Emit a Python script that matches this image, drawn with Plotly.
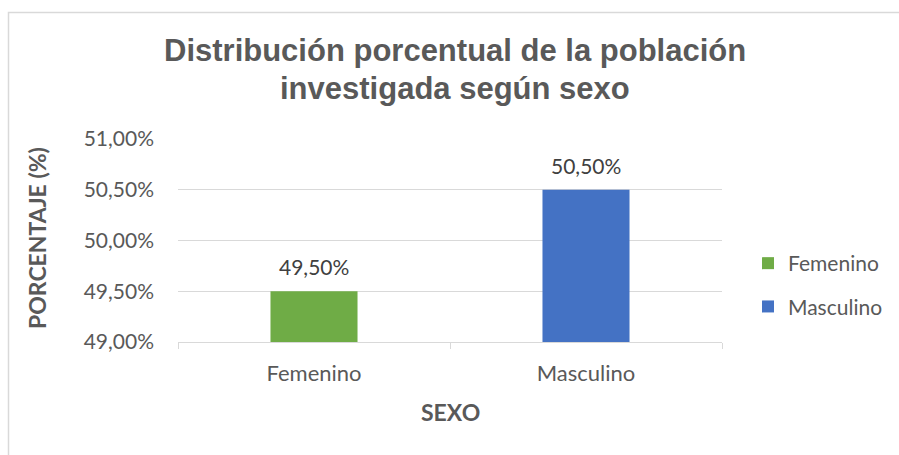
import plotly.graph_objects as go

categories = ["Femenino", "Masculino"]
values = [49.5, 50.5]
colors = ["#6fac46", "#4472c4"]
y_ticks = [49.0, 49.5, 50.0, 50.5, 51.0]
title_lines = ["Distribución porcentual de la población", "investigada según sexo"]
x_title = "SEXO"
y_title = "PORCENTAJE (%)"

def pct(v):
    return f"{v:.2f}%".replace(".", ",")

W, H = 899, 455
L, R, T, B = 178, 177, 139, 113
pw, ph = W - L - R, H - T - B

def px(x):
    return (x - L) / pw

def py(y):
    return (H - B - y) / ph

TXT = "#595959"
GRID = "#d9d9d9"
BODY = "Lato, 'Open Sans', sans-serif"
TITLE_FONT = "'Liberation Sans', Arial, sans-serif"

fig = go.Figure()
for i, (c, v) in enumerate(zip(categories, values)):
    fig.add_trace(go.Bar(
        x=[c], y=[v], name=c, marker=dict(color=colors[i], line=dict(width=0)),
        width=0.32, legendgroup=c, hoverinfo="skip",
    ))

annotations = []
for c, v in zip(categories, values):
    annotations.append(dict(
        x=c, y=v, xref="x", yref="y", text=pct(v),
        showarrow=False, yanchor="bottom", yshift=10,
        font=dict(family=BODY, size=21, color="#404040"),
    ))
for line, ypix in zip(title_lines, [50, 88]):
    annotations.append(dict(x=px(455), y=py(ypix), xref="paper", yref="paper",
                            text=f"<b>{line}</b>", showarrow=False,
                            xanchor="center", yanchor="middle",
                            font=dict(family=TITLE_FONT, size=31, color=TXT)))
annotations.append(dict(x=px(37), y=py(238), xref="paper", yref="paper",
                        text=f"<b>{y_title}</b>", showarrow=False, textangle=-90,
                        xanchor="center", yanchor="middle",
                        font=dict(family=BODY, size=23, color=TXT)))
annotations.append(dict(x=px(450), y=py(412), xref="paper", yref="paper",
                        text=f"<b>{x_title}</b>", showarrow=False,
                        xanchor="center", yanchor="middle",
                        font=dict(family=BODY, size=23, color=TXT)))

fig.update_layout(
    width=W, height=H,
    margin=dict(l=L, r=R, t=T, b=B, autoexpand=False),
    paper_bgcolor="white", plot_bgcolor="white",
    barmode="overlay",
    showlegend=True,
    legend=dict(x=px(748), xanchor="left", y=py(243), yanchor="top",
                font=dict(family=BODY, size=21, color=TXT),
                tracegroupgap=13, traceorder="grouped", itemwidth=30),
    xaxis=dict(
        type="category", tickson="boundaries", ticks="outside", ticklen=6,
        tickcolor=GRID, showline=True, linecolor=GRID, linewidth=1,
        showgrid=False, ticklabelstandoff=12,
        tickfont=dict(family=BODY, size=22, color=TXT),
    ),
    yaxis=dict(
        range=[y_ticks[0], y_ticks[-1]], tickvals=y_ticks,
        ticktext=[pct(v) for v in y_ticks],
        showgrid=True, gridcolor=GRID, gridwidth=1,
        zeroline=False, showline=False, ticks="", ticklabelstandoff=23,
        tickfont=dict(family=BODY, size=21, color=TXT),
    ),
    annotations=annotations,
    shapes=[dict(type="rect", xref="paper", yref="paper",
                 x0=px(8.5), x1=px(930), y0=py(480), y1=py(12.5),
                 line=dict(color=GRID, width=1.5), fillcolor="rgba(0,0,0,0)", layer="below")],
)

fig.write_html("out.html", config={"displayModeBar": False},
               post_script="document.body.style.margin='0';document.body.style.overflow='hidden';")
